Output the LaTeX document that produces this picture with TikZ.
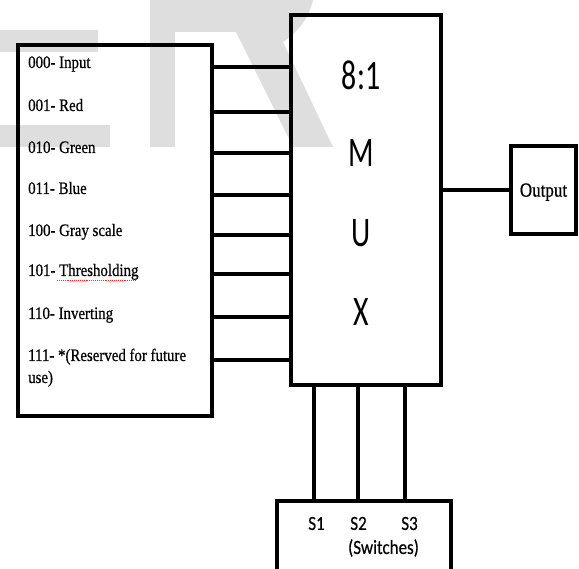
\documentclass[tikz,border=0pt]{standalone}
\usepackage{fontspec}
\setmainfont{Liberation Serif}
\newfontfamily\kodfont[FakeStretch=0.85, FakeBold=0.6]{Liberation Serif}
\newfontfamily\muxfont[FakeStretch=0.71]{Carlito}
\newfontfamily\swfont[FakeStretch=0.85, FakeBold=0.4]{Carlito}

\tikzset{
    blok/.style={draw, line width=4pt, outer sep=0pt, inner sep=0pt},
    wire/.style={line width=3.5pt},
    kod/.style={anchor=base west, inner sep=0pt, align=left,
        font=\kodfont\fontsize{17.5}{22}\selectfont},
    muxtxt/.style={inner sep=0pt, font=\muxfont\fontsize{42}{42}\selectfont},
    swtxt/.style={inner sep=0pt, font=\swfont\fontsize{20}{20}\selectfont},
    water/.style={fill=black!13, draw=none},
}

\begin{document}
\begin{tikzpicture}[x=1pt, y=-1pt]
    \clip (0,0) rectangle (579,569);

    % watermark
    \fill[water] (0,30) rectangle (98,52);
    \fill[water] (0,125) rectangle (110,147);
    \fill[water] (150,0) rectangle (175,147);
    \fill[water] (175,0) -- (313,0) .. controls (309,18) and (298,32) .. (283,42)
        -- (333,147) -- (293,147) -- (236,32) -- (175,32) -- cycle;

    \node[blok, minimum width=194pt, minimum height=371pt] (src) at (115,230.5) {};
    \node[blok, minimum width=150pt, minimum height=370pt] (mux) at (366,200) {};
    \node[blok, minimum width=65pt, minimum height=88pt, text depth=0pt,
        font=\kodfont\fontsize{20}{20}\selectfont] (out) at (543.5,190) {Output};
    \node[blok, minimum width=174pt, minimum height=84pt] (sw) at (364,543) {};

    % last baseline of each label, then wire height
    \foreach \i/\b/\y/\t in {0/68/67/000- Input, 1/111/112/001- Red,
        2/153/153/010- Green, 3/194/195/011- Blue, 4/236/235/100- Gray scale,
        5/276/274/101- Thresholding, 6/319/317/110- Inverting,
        7/383/360/{111- *(Reserved for future\\use)}}
    {
        \node[kod] (lbl\i) at (28,\b) {\t};
        \coordinate (in\i) at (mux.west |- 0,\y);
        \draw[wire] (src.east |- in\i) -- (in\i);
    }
    \draw[red!85, densely dotted, line width=0.9pt] (57,280) -- (135,280);

    \foreach \y/\t/\n in {75/8:1/1, 153/M/2, 233/U/3, 312/X/4}
        {\node[muxtxt] (mtxt\n) at (361,\y) {\t};}

    \draw[wire] (mux.east |- out.west) -- (out.west);

    \foreach \i/\x/\lx in {1/314/316.5, 2/358/358.5, 3/405/409.5}
    {
        \coordinate (s\i) at (\x,0);
        \draw[wire] (mux.south -| s\i) -- (sw.north -| s\i);
        \node[swtxt] (slbl\i) at (\lx,523.5) {S\i};
    }
    \node[swtxt] (swname) at (383.5,548) {(Switches)};
\end{tikzpicture}
\end{document}
